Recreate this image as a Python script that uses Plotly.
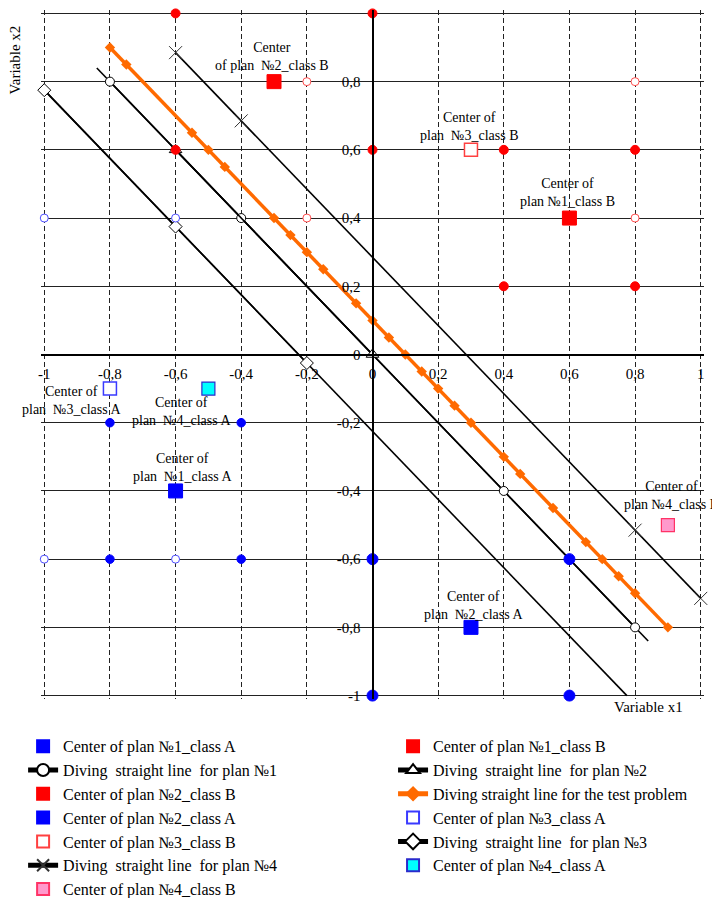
import plotly.graph_objects as go

# ---------------- data ----------------
tick_vals = [-1, -0.8, -0.6, -0.4, -0.2, 0, 0.2, 0.4, 0.6, 0.8, 1]
tick_text = ["-1", "-0,8", "-0,6", "-0,4", "-0,2", "0", "0,2", "0,4", "0,6", "0,8", "1"]

# sample points of the plans
p1A_x = [-0.8, -0.4, -0.8, -0.4]
p1A_y = [-0.2, -0.2, -0.6, -0.6]
p1B_x = [0.4, 0.8, 0.4, 0.8]
p1B_y = [0.6, 0.6, 0.2, 0.2]
p2A_x = [0, 0.6, 0, 0.6]
p2A_y = [-0.6, -0.6, -1, -1]
p2B_x = [-0.6, 0, -0.6, 0]
p2B_y = [1, 1, 0.6, 0.6]
p3A_x = [-1, -0.6, -1, -0.6]
p3A_y = [0.4, 0.4, -0.6, -0.6]
p3B_x = [-0.2, 0.8, -0.2, 0.8]
p3B_y = [0.8, 0.8, 0.4, 0.4]

# centers
c1A = (-0.6, -0.4)
c1B = (0.6, 0.4)
c2A = (0.3, -0.8)
c2B = (-0.3, 0.8)
c3A = (-0.8, -0.1)
c3B = (0.3, 0.6)
c4A = (-0.5, -0.1)
c4B = (0.9, -0.5)

# dividing lines
line1_x = [-0.84, 0.84]
line1_y = [0.84, -0.84]
line1_mx = [-0.8, -0.4, 0.4, 0.8]
line1_my = [0.8, 0.4, -0.4, -0.8]
line2_x = [-0.6, 0]
line2_y = [0.6, 0]
line3_x = [-1, 0.775]
line3_y = [0.775, -1]
line3_mx = [-1, -0.6, -0.2]
line3_my = [0.775, 0.375, -0.025]
line4_x = [-0.6, -0.4, 0.8, 1]
line4_y = [0.885, 0.685, -0.515, -0.715]
test_x = [-0.8, -0.75, -0.55, -0.5, -0.45, -0.3, -0.25, -0.2, -0.15, -0.05, 0, 0.05,
          0.1, 0.15, 0.2, 0.25, 0.3, 0.4, 0.45, 0.55, 0.65, 0.7, 0.75, 0.8, 0.9]
test_y = [0.9, 0.85, 0.65, 0.6, 0.55, 0.4, 0.35, 0.3, 0.25, 0.15, 0.1, 0.05,
          0, -0.05, -0.1, -0.15, -0.2, -0.3, -0.35, -0.45, -0.55, -0.6, -0.65, -0.7, -0.8]

# annotation labels: (x, y, text)
labels = [
    (-0.305, 0.874, "Center<br>of plan  №2_class B"),
    (0.296, 0.669, "Center of<br>plan  №3_class B"),
    (0.595, 0.475, "Center of<br>plan №1_class B"),
    (0.91, -0.413, "Center of<br>plan №4_class B"),
    (0.308, -0.736, "Center of<br>plan  №2_class A"),
    (-0.918, -0.135, "Center of<br>plan  №3_class A"),
    (-0.582, -0.167, "Center of<br>plan  №4_class A"),
    (-0.579, -0.331, "Center of<br>plan  №1_class A"),
]

FONT = "Liberation Serif"
fig = go.Figure()

LW = 1.6
# --- lines ---
fig.add_trace(go.Scatter(x=line1_x, y=line1_y, mode="lines", line=dict(color="black", width=LW),
                         showlegend=False, hoverinfo="skip"))
fig.add_trace(go.Scatter(x=line1_mx, y=line1_my, mode="lines+markers", legend="legend",
                         line=dict(color="black", width=LW),
                         marker=dict(symbol="circle", size=9, color="white", line=dict(color="black", width=1)),
                         name="Diving  straight line  for plan №1", legendrank=2))
fig.add_trace(go.Scatter(x=line2_x, y=line2_y, mode="lines+markers", legend="legend2",
                         line=dict(color="black", width=LW),
                         marker=dict(symbol="triangle-up", size=11, color="white", line=dict(color="black", width=1)),
                         name="Diving  straight line  for plan №2", legendrank=2))
fig.add_trace(go.Scatter(x=line3_x, y=line3_y, mode="lines", line=dict(color="black", width=LW),
                         showlegend=False, hoverinfo="skip"))
fig.add_trace(go.Scatter(x=line3_mx, y=line3_my, mode="lines+markers", legend="legend2", cliponaxis=False,
                         line=dict(color="black", width=LW),
                         marker=dict(symbol="diamond", size=10, color="white", line=dict(color="black", width=1)),
                         name="Diving  straight line  for plan №3", legendrank=5))
fig.add_trace(go.Scatter(x=line4_x, y=line4_y, mode="lines+markers", legend="legend", cliponaxis=False,
                         line=dict(color="black", width=LW),
                         marker=dict(symbol="x-thin-open", size=13, color="#333", line=dict(color="#333", width=1)),
                         name="Diving  straight line  for plan №4", legendrank=6))
fig.add_trace(go.Scatter(x=test_x, y=test_y, mode="lines+markers", legend="legend2",
                         line=dict(color="#ff6a00", width=3.5),
                         marker=dict(symbol="diamond", size=8, color="#ff6a00"),
                         name="Diving straight line for the test problem", legendrank=3))

# --- sample points ---
def pts(xs, ys, size, fill, edge, lw=1):
    fig.add_trace(go.Scatter(x=xs, y=ys, mode="markers", showlegend=False, cliponaxis=False,
                             marker=dict(symbol="circle", size=size, color=fill, line=dict(color=edge, width=lw))))

pts(p1B_x, p1B_y, 9, "#ff0000", "#ff0000")
pts(p2B_x, p2B_y, 9, "#ff0000", "#ff0000")
pts(p3B_x, p3B_y, 8, "white", "#ff4d4d")
pts(p1A_x, p1A_y, 8.5, "#0000ff", "#0000ff")
pts(p2A_x, p2A_y, 11, "#0000ff", "#0000ff")
pts(p3A_x, p3A_y, 8, "white", "#4d4dff")

# --- centers ---
def center(c, name, fill, edge, leg, rank, size=14, lw=1):
    fig.add_trace(go.Scatter(x=[c[0]], y=[c[1]], mode="markers", name=name, legend=leg, legendrank=rank,
                             cliponaxis=False,
                             marker=dict(symbol="square", size=size, color=fill, line=dict(color=edge, width=lw))))

center(c1A, "Center of plan №1_class A", "#0000ff", "#0000ff", "legend", 1)
center(c1B, "Center of plan №1_class B", "#ff0000", "#ff0000", "legend2", 1)
center(c2B, "Center of plan №2_class B", "#ff0000", "#ff0000", "legend", 3)
center(c2A, "Center of plan №2_class A", "#0000ff", "#0000ff", "legend", 4)
center(c3A, "Center of plan №3_class A", "white", "#3a3aff", "legend2", 4, size=13, lw=1.5)
center(c3B, "Center of plan №3_class B", "white", "#ff4040", "legend", 5, size=13, lw=1.5)
center(c4A, "Center of plan №4_class A", "#00ffff", "#2a2acc", "legend2", 6, size=13, lw=1.2)
center(c4B, "Center of plan №4_class B", "#ff99cc", "#ff3366", "legend", 7, size=13, lw=1.2)

for (lx, ly, t) in labels:
    fig.add_annotation(x=lx, y=ly, text=t, showarrow=False, xref="x", yref="y",
                       xanchor="center", yanchor="middle",
                       font=dict(family=FONT, size=14, color="black"))

fig.add_annotation(x=-0.039, y=0.927, xref="paper", yref="paper", text="Variable x2", textangle=-90,
                   xanchor="center", yanchor="middle",
                   showarrow=False, font=dict(family=FONT, size=15, color="black"))
fig.add_annotation(x=0.916, y=-0.0116, xref="paper", yref="paper", text="Variable x1",
                   xanchor="center", yanchor="middle",
                   showarrow=False, font=dict(family=FONT, size=15, color="black"))

legend_common = dict(orientation="v", xanchor="left", yanchor="top", traceorder="normal",
                     itemsizing="constant", font=dict(family=FONT, size=16, color="black"),
                     bgcolor="rgba(0,0,0,0)", tracegroupgap=0)

fig.update_layout(
    width=712, height=890,
    margin=dict(l=33, r=16, t=2, b=199, autoexpand=False),
    plot_bgcolor="white", paper_bgcolor="white",
    font=dict(family=FONT, size=15, color="black"),
    xaxis=dict(range=[-1.01, 1.01], tickvals=tick_vals, ticktext=tick_text, anchor="free", position=0.5,
               showgrid=True, gridcolor="#222", gridwidth=1, griddash="5px,3px",
               showline=True, linecolor="black", linewidth=2, zeroline=False,
               ticks="", ticklabelstandoff=5, tickfont=dict(family=FONT, size=15)),
    yaxis=dict(range=[-1.01, 1.01], tickvals=tick_vals, ticktext=tick_text, anchor="free", position=0.5,
               showgrid=True, gridcolor="#222", gridwidth=1,
               showline=True, linecolor="black", linewidth=2, zeroline=False,
               ticks="", ticklabelstandoff=8, tickfont=dict(family=FONT, size=15)),
    showlegend=True,
    legend=dict(x=-0.027, y=-0.044, **legend_common),
    legend2=dict(x=0.531, y=-0.044, **legend_common),
)

fig.write_html("out.html")
